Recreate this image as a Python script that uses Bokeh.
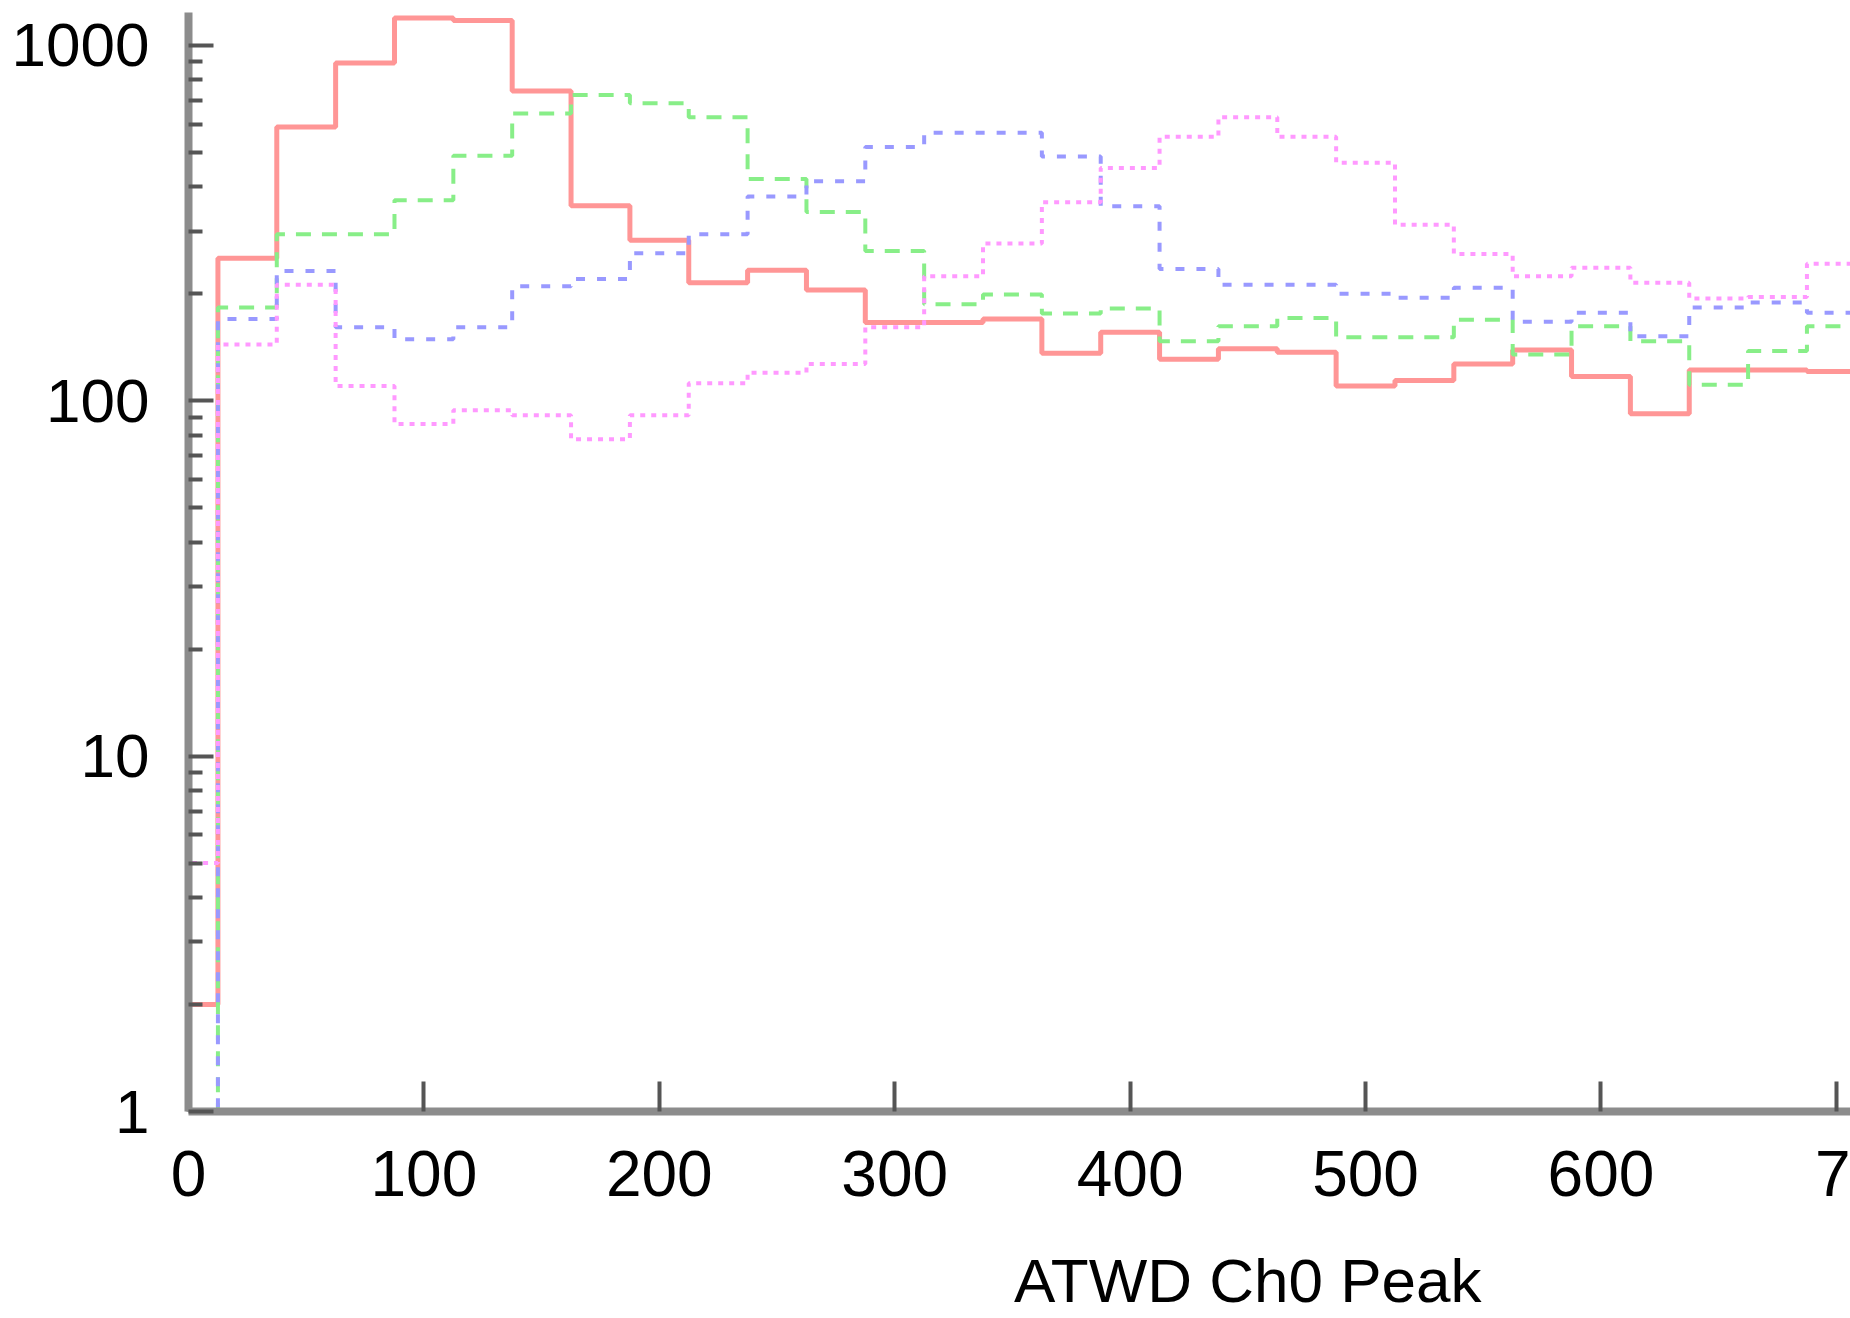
from bokeh.plotting import figure
from bokeh.models import Range1d, FixedTicker, Title, NumeralTickFormatter
from bokeh.embed import file_html
from bokeh.resources import INLINE

# histogram bins (bin centres, width 25)
bin_centers = list(range(0, 725, 25))
bin_width = 25

red_counts = [2, 252, 590, 893, 1195, 1175, 745, 354, 283, 215,
              233, 205, 166, 166, 170, 136, 156, 131, 140, 137,
              110, 114, 127, 139, 117, 92, 122, 122, 121]
green_counts = [1, 183, 294, 294, 367, 489, 643, 725, 688, 628,
                421, 340, 264, 187, 199, 176, 182, 147, 162, 171,
                151, 151, 169, 135, 162, 147, 111, 138, 162]
blue_counts = [1, 170, 232, 161, 149, 161, 210, 220, 260, 294,
               376, 415, 518, 568, 568, 487, 353, 235, 212, 212,
               200, 195, 208, 167, 177, 152, 183, 189, 177]
pink_counts = [5, 144, 212, 110, 86, 94, 91, 78, 91, 112,
               120, 127, 161, 224, 277, 362, 452, 553, 628, 553,
               468, 313, 259, 224, 237, 215, 194, 196, 243]

x_ticks = [0, 100, 200, 300, 400, 500, 600, 700]
x_tick_text = {700: "7"}   # the last label is cut off at the edge in the original
y_ticks = [1, 10, 100, 1000]
y_minor = [m * d for d in (1, 10, 100, 1000) for m in range(2, 10)]
x_title = "ATWD Ch0 Peak"

FONT = "Liberation Sans"

p = figure(width=1850, height=1318, output_backend="svg", toolbar_location=None,
           y_axis_type="log",
           x_range=Range1d(0, 706), y_range=Range1d(1, 1238),
           min_border_left=188, min_border_right=0, min_border_top=12,
           min_border_bottom=207)
p.outline_line_color = None
p.xgrid.visible = False
p.ygrid.visible = False
p.background_fill_color = "white"
p.border_fill_color = "white"

edges = [c - bin_width / 2 for c in bin_centers] + [bin_centers[-1] + bin_width / 2]

def steps(counts):
    return counts + [counts[-1]]

p.step(edges, steps(red_counts), mode="after", line_color="#ff9696", line_width=5)
p.step(edges, steps(green_counts), mode="after", line_color="#88ee88", line_width=4,
       line_dash="15 11")
p.step(edges, steps(blue_counts), mode="after", line_color="#9999ff", line_width=4,
       line_dash="9 12")
p.step(edges, steps(pink_counts), mode="after", line_color="#ff99ff", line_width=4,
       line_dash="5 6")

for ax in (p.xaxis[0], p.yaxis[0]):
    ax.axis_line_color = "#8c8c8c"
    ax.axis_line_width = 8
    ax.major_tick_line_color = "#555555"
    ax.major_tick_line_width = 4
    ax.major_tick_out = 0
    ax.minor_tick_out = 0
    ax.major_label_text_font = FONT
    ax.major_label_text_color = "black"

xa = p.xaxis[0]
xa.ticker = FixedTicker(ticks=x_ticks)
xa.major_label_overrides = x_tick_text
xa.major_tick_in = 30
xa.minor_tick_line_color = None
xa.major_label_text_font_size = "64px"
xa.major_label_standoff = 39

ya = p.yaxis[0]
ya.ticker = FixedTicker(ticks=y_ticks, minor_ticks=y_minor)
ya.formatter = NumeralTickFormatter(format="0")
ya.major_tick_in = 25
ya.minor_tick_in = 14
ya.minor_tick_line_color = "#555555"
ya.minor_tick_line_width = 4
ya.major_label_text_font_size = "62px"
ya.major_label_standoff = 39

title = Title(text=x_title, align="right", offset=369, vertical_align="top",
              standoff=0, text_font=FONT, text_font_size="62px",
              text_font_style="normal", text_color="black")
try:
    title.padding = dict(top=47, right=0, bottom=0, left=0)
except Exception:
    title.standoff = 20
p.add_layout(title, "below")

open("out.html", "w").write(file_html(p, INLINE))
